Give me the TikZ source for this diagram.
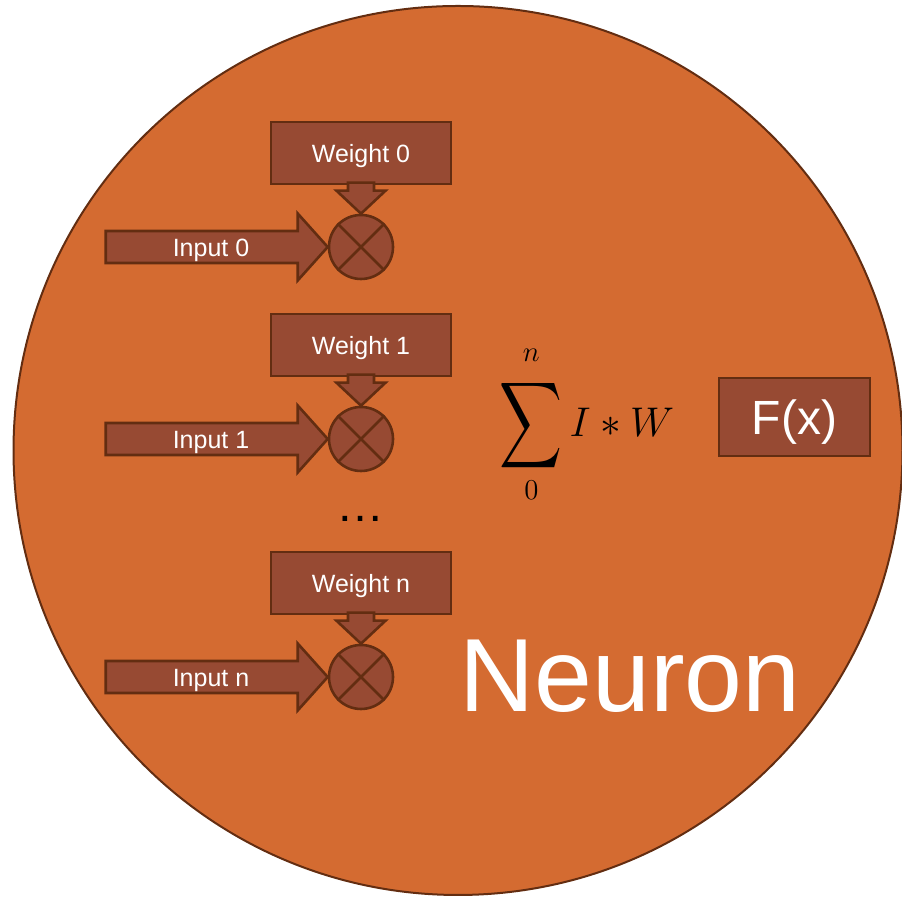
\documentclass[tikz,border=0pt]{standalone}
\usepackage{exscale}
\usepackage{fontspec}
\newfontfamily\arialfont{Liberation Sans}
\usetikzlibrary{positioning}
\definecolor{neuronfill}{RGB}{212,107,49}
\definecolor{blockfill}{RGB}{151,74,51}
\definecolor{blockline}{RGB}{99,45,17}

\begin{document}
\begin{tikzpicture}[x=0.5pt, y=0.5pt,
    block/.style={draw=blockline, fill=blockfill, line width=1.3pt},
    wbox/.style={block, minimum width=90pt, minimum height=31pt, inner sep=0pt, text depth=0pt,
        text=white, font=\arialfont\fontsize{12.5}{14}\selectfont},
    mult/.style={block, circle, minimum size=32pt, inner sep=0pt},
    lbl/.style={text=white, inner sep=0pt, anchor=base, font=\arialfont\fontsize{12.5}{14}\selectfont}]
    \clip (0,0) rectangle (902,898);
    \draw[fill=neuronfill, draw=blockline, line width=1pt] (458,447.5) circle (444.5);

    % inputs times weights
    \foreach \row/\idx in {651/0, 459/1, 221/n} {
        \node[mult] (mul\idx) at (361,\row) {};
        \draw[blockline, line width=1.3pt] (mul\idx.north west) -- (mul\idx.south east)
            (mul\idx.north east) -- (mul\idx.south west);
        \node[wbox] (w\idx) at (361,\row+94) {Weight \idx};
        \draw[block] (mul\idx.north) -- ++(-24.5,23) -- ++(11.5,0) -- ++(0,8) -- ++(26,0)
            -- ++(0,-8) -- ++(11.5,0) -- cycle;
        \draw[block] (mul\idx.west) -- ++(-30,33.5) -- ++(0,-17.5) -- ++(-192,0) -- ++(0,-32)
            -- ++(192,0) -- ++(0,-17.5) -- cycle;
        \node[lbl] (in\idx) at (211,\row-10) {Input \idx};
    }
    \node[inner sep=0pt, anchor=base, font=\arialfont\fontsize{24}{28}\selectfont] (dots) at (360,376) {…};

    % weighted sum and activation
    \node[inner sep=0pt, font=\fontsize{22}{26}\selectfont] (sum) at (587,474)
        {$\displaystyle\mathop{\vcenter{\hbox{\scalebox{1.05}[1.45]{$\displaystyle\sum$}}}}\limits_{\rule{0pt}{9pt}0}^{\rule[-6pt]{0pt}{6pt}n} I \ast W$};
    \node[block, minimum width=75.5pt, minimum height=39pt, inner sep=0pt, text depth=0pt,
        text=white, font=\arialfont\fontsize{24}{28}\selectfont] (fx) at (794.5,481) {F(x)};

    \node[inner sep=0pt, anchor=base, text=white, font=\arialfont\fontsize{52}{60}\selectfont] (title) at (630,186) {Neuron};
\end{tikzpicture}
\end{document}
